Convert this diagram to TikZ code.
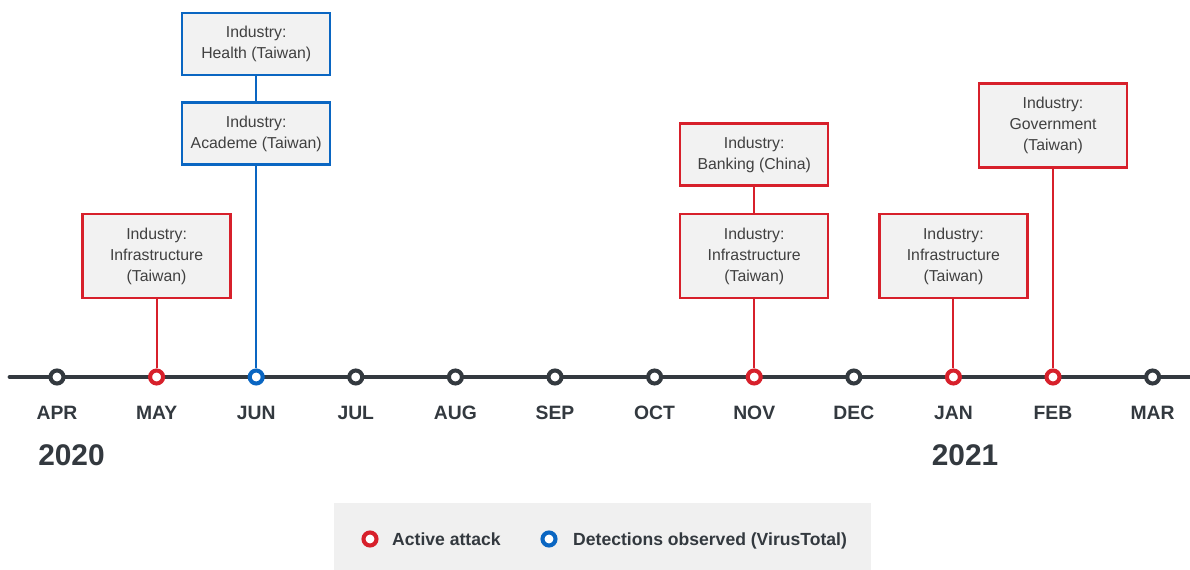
\documentclass[tikz,border=0pt]{standalone}
\usepackage{fontspec}
\setmainfont{Liberation Sans}
\usetikzlibrary{positioning}
\definecolor{atkred}{HTML}{D7202B}
\definecolor{vtblue}{HTML}{0A66C2}
\definecolor{linegray}{HTML}{33393F}
\definecolor{boxfill}{HTML}{F2F2F2}
\definecolor{legendfill}{HTML}{F0F0F0}
\definecolor{txtgray}{HTML}{404040}
\tikzset{
  tick/.style={circle, draw=#1, line width=2.3pt, fill=white, minimum size=0.26cm, inner sep=0pt},
  tick/.default=linegray,
  monthlabel/.style={font=\fontsize{11}{13}\selectfont\bfseries, text=linegray},
  yearlabel/.style={font=\fontsize{17}{20}\selectfont\bfseries, text=linegray},
  infobox/.style={draw=#1, line width=1.4pt, fill=boxfill, align=center, text=txtgray,
    minimum width=2.96cm, inner sep=0pt, font=\fontsize{9}{12}\selectfont},
  tall/.style={minimum height=1.68cm},
  short/.style={minimum height=1.24cm},
  stem/.style={draw=#1, line width=1.2pt},
  legendtext/.style={font=\fontsize{10}{12}\selectfont\bfseries, text=linegray, anchor=base west}
}
\begin{document}
\begin{tikzpicture}[x=0.02cm, y=-0.02cm]
        \useasboundingbox (0,0) rectangle (1190,570);
        \fill[legendfill] (334,503) rectangle (871,570);
        \coordinate (tl-start) at (10,377);
        \coordinate (tl-end) at (1190,377);
        \draw[linegray, line width=2.8pt, line cap=round] (tl-start) -- (tl-end);
        \foreach \mon/\col [count=\i] in {APR/linegray, MAY/atkred, JUN/vtblue, JUL/linegray,
            AUG/linegray, SEP/linegray, OCT/linegray, NOV/atkred, DEC/linegray, JAN/atkred,
            FEB/atkred, MAR/linegray} {
          \node[tick=\col] (m\i) at ({57+99.6*(\i-1)},377) {};
          \node[monthlabel] (lbl\i) at ({57+99.6*(\i-1)},413) {\mon};
        }
        \node[yearlabel] (y2020) at (71.5,455) {2020};
        \node[yearlabel] (y2021) at (965,455) {2021};
        % boxes
        \node[infobox=atkred, tall] (may) at (m2 |- 0,256) {Industry:\\Infrastructure\\(Taiwan)};
        \node[infobox=vtblue, short] (academe) at (m3 |- 0,133.5) {Industry:\\Academe (Taiwan)};
        \node[infobox=vtblue, short, above=0.5cm of academe] (health) {Industry:\\Health (Taiwan)};
        \node[infobox=atkred, tall] (nov) at (m8 |- 0,256) {Industry:\\Infrastructure\\(Taiwan)};
        \node[infobox=atkred, short, above=0.52cm of nov] (banking) {Industry:\\Banking (China)};
        \node[infobox=atkred, tall] (jan) at (m10 |- 0,256) {Industry:\\Infrastructure\\(Taiwan)};
        \node[infobox=atkred, tall] (feb) at (m11 |- 0,125.5) {Industry:\\Government\\(Taiwan)};
        \draw[stem=atkred] (may) -- (m2);
        \draw[stem=vtblue] (health) -- (academe);
        \draw[stem=vtblue] (academe) -- (m3);
        \draw[stem=atkred] (banking) -- (nov);
        \draw[stem=atkred] (nov) -- (m8);
        \draw[stem=atkred] (jan) -- (m10);
        \draw[stem=atkred] (feb) -- (m11);
        % legend
        \node[tick=atkred] (key-atk) at (370,539) {};
        \node[legendtext] (key-atk-txt) at (386,545) {Active attack};
        \node[tick=vtblue] (key-vt) at (549,539) {};
        \node[legendtext] (key-vt-txt) at (567,545) {Detections observed (VirusTotal)};
        \end{tikzpicture}
\end{document}
